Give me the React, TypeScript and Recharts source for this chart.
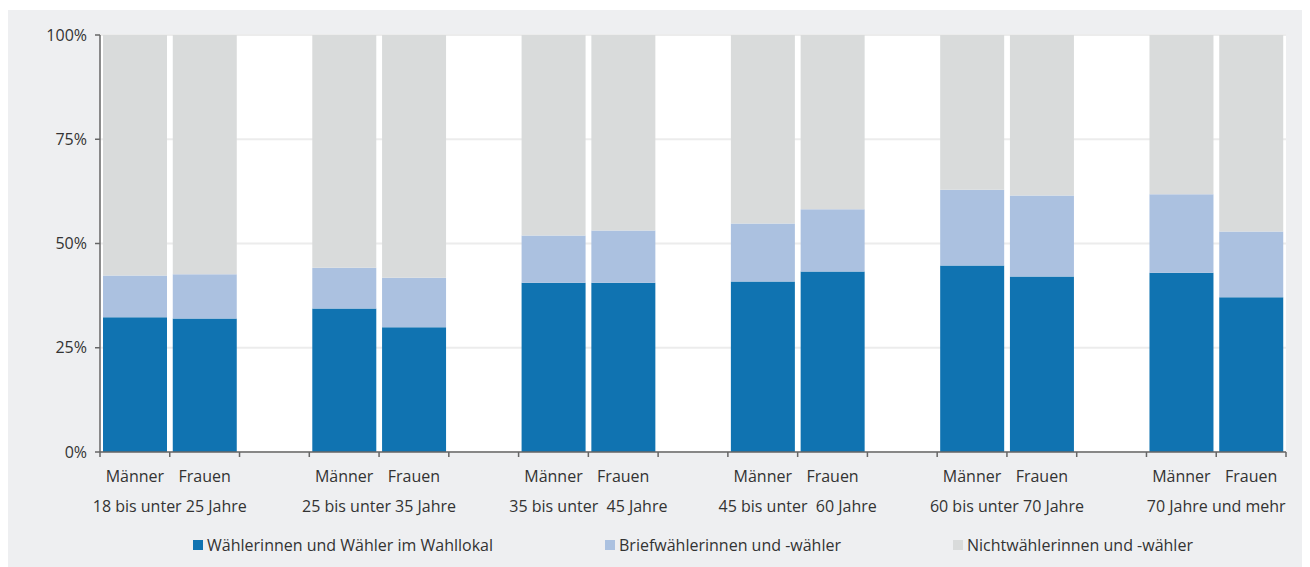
import { Bar, BarChart, CartesianGrid, Legend, XAxis, YAxis } from "recharts";

const GROUPS = [
  "18 bis unter 25 Jahre",
  "25 bis unter 35 Jahre",
  "35 bis unter\u00a0 45 Jahre",
  "45 bis unter\u00a0 60 Jahre",
  "60 bis unter 70 Jahre",
  "70 Jahre und mehr",
];
const GENDERS = ["Männer", "Frauen"];

// je Gruppe: Männer, Frauen (in %)
const WAHLLOKAL = [32.3, 32.0, 34.4, 29.9, 40.6, 40.6, 40.9, 43.3, 44.7, 42.1, 43.0, 37.1];
const BRIEF = [10.0, 10.6, 9.8, 11.9, 11.3, 12.5, 13.9, 14.9, 18.2, 19.4, 18.8, 15.8];
const NICHT = [57.7, 57.4, 55.8, 58.2, 48.1, 46.9, 45.2, 41.8, 37.1, 38.5, 38.2, 47.1];

const Y_TICKS = [0, 25, 50, 75, 100];

const SERIES = [
  { key: "lokal", name: "Wählerinnen und Wähler im Wahllokal", color: "#1073b1" },
  { key: "brief", name: "Briefwählerinnen und -wähler", color: "#abc1e0" },
  { key: "nicht", name: "Nichtwählerinnen und -wähler", color: "#d9dbdb" },
];

type Row = { id: string; name: string; group?: string; lokal?: number; brief?: number; nicht?: number };

const rows: Row[] = [];
GROUPS.forEach((group, g) => {
  GENDERS.forEach((gender, s) => {
    const i = g * 2 + s;
    rows.push({
      id: `b${i}`,
      name: gender,
      group: s === 0 ? group : undefined,
      lokal: WAHLLOKAL[i],
      brief: BRIEF[i],
      nicht: NICHT[i],
    });
  });
  if (g < GROUPS.length - 1) rows.push({ id: `s${g}`, name: "" });
});

const SLOTS = rows.length;

const FONT = "'Open Sans', sans-serif";
const TEXT = "#333";
const AXIS = "#666";

// Striche an den Grenzen der Kategorien
function BoundaryTick(props: any) {
  const { x, y, index, width } = props;
  const half = width / SLOTS / 2;
  return (
    <g>
      <line x1={x - half} x2={x - half} y1={y} y2={y + 5} stroke={AXIS} strokeWidth={1.5} />
      {index === SLOTS - 1 && (
        <line x1={x + half} x2={x + half} y1={y} y2={y + 5} stroke={AXIS} strokeWidth={1.5} />
      )}
    </g>
  );
}

// Altersgruppe mittig unter Männer/Frauen
function GroupTick(props: any) {
  const { x, y, index, width } = props;
  const group = rows[index]?.group;
  if (!group) return <g />;
  const half = width / SLOTS / 2;
  return (
    <text
      x={x + half}
      y={y}
      dy="0.71em"
      textAnchor="middle"
      fill={TEXT}
      fontSize={16}
      fontFamily={FONT}
      style={{ whiteSpace: "pre" }}
    >
      {group}
    </text>
  );
}

function LegendContent() {
  return (
    <div
      style={{
        display: "flex",
        justifyContent: "center",
        gap: 112,
        height: 30,
        lineHeight: "30px",
        fontFamily: FONT,
        fontSize: 16,
        color: TEXT,
      }}
    >
      {SERIES.map((s) => (
        <div key={s.key} style={{ display: "flex", alignItems: "center" }}>
          <span style={{ width: 10, height: 10, background: s.color, marginRight: 4 }} />
          <span>{s.name}</span>
        </div>
      ))}
    </div>
  );
}

export default function App() {
  return (
    <div style={{ marginTop: 2, width: 1302, height: 557, background: "#eeeff1" }}>
      <BarChart
        width={1302}
        height={557}
        data={rows}
        margin={{ top: 25, right: 24, left: 0, bottom: 7 }}
        barCategoryGap={3}
      >
        <CartesianGrid xAxisId="b" vertical={false} stroke="#ececec" strokeWidth={2} fill="#ffffff" />
        <XAxis
          xAxisId="a"
          dataKey="id"
          interval={0}
          tickLine={false}
          tickSize={0}
          tickMargin={0}
          height={8}
          stroke={AXIS}
          strokeWidth={1.5}
          tick={<BoundaryTick />}
        />
        <XAxis
          xAxisId="b"
          dataKey="id"
          interval={0}
          axisLine={false}
          tickLine={false}
          tickSize={0}
          tickMargin={11}
          height={30}
          tickFormatter={(_v, i) => rows[i]?.name ?? ""}
          tick={{ fill: TEXT, fontSize: 16, fontFamily: FONT }}
        />
        <XAxis
          xAxisId="c"
          dataKey="id"
          interval={0}
          axisLine={false}
          tickLine={false}
          tickSize={0}
          tickMargin={11}
          height={40}
          tick={<GroupTick />}
        />
        <YAxis
          domain={[0, 100]}
          ticks={Y_TICKS}
          interval={0}
          width={92}
          tickSize={5}
          tickMargin={8}
          stroke={AXIS}
          strokeWidth={1.5}
          tickFormatter={(v) => `${v}%`}
          tick={{ fill: TEXT, fontSize: 16, fontFamily: FONT }}
        />
        <Legend
          verticalAlign="bottom"
          width={1186}
          height={30}
          wrapperStyle={{ left: 92 }}
          content={<LegendContent />}
        />
        {SERIES.map((s) => (
          <Bar
            key={s.key}
            xAxisId="b"
            dataKey={s.key}
            name={s.name}
            stackId="a"
            fill={s.color}
            isAnimationActive={false}
          />
        ))}
      </BarChart>
    </div>
  );
}
